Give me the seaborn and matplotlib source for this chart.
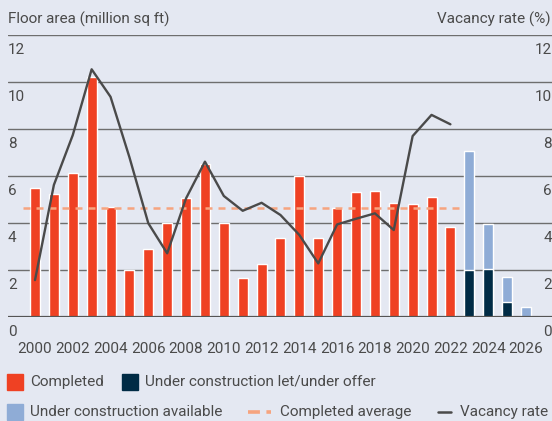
import numpy as np
import pandas as pd
import seaborn as sns
import matplotlib.pyplot as plt
import matplotlib.transforms as mtransforms
from matplotlib.patches import Rectangle
from matplotlib.lines import Line2D

# Data
completed_years = list(range(2000, 2023))
completed = [5.49, 5.23, 6.12, 10.2, 4.68, 2.0, 2.89, 3.99, 5.06, 6.51, 4.0, 1.67,
             2.26, 3.36, 6.01, 3.36, 4.64, 5.32, 5.36, 4.85, 4.81, 5.11, 3.83]
completed_avg = 4.64

uc_years = [2023, 2024, 2025, 2026]
uc_let = [2.0, 2.04, 0.64, 0.0]
uc_available = [5.06, 1.92, 1.06, 0.43]

vacancy_years = list(range(2000, 2023))
vacancy = [1.57, 5.62, 7.74, 10.54, 9.37, 6.8, 3.99, 2.71, 5.05, 6.61, 5.15, 4.52,
           4.86, 4.34, 3.49, 2.28, 3.94, 4.18, 4.41, 3.70, 7.70, 8.6, 8.2]

y_ticks = [0, 2, 4, 6, 8, 10, 12]
x_ticks = list(range(2000, 2027, 2))

# colours
BG = '#E4E8F2'
RED = '#EF4123'
NAVY = '#002B45'
LIGHTBLUE = '#8FACD6'
SALMON = '#F6A47F'
LINE = '#4A4A4A'
GRID = '#6E6E6E'
TXT = '#4A4A4A'
FS = 11.0

sns.set_theme(style='white')
plt.rcParams['font.family'] = ['Roboto', 'DejaVu Sans']

W, H = 552, 421
fig = plt.figure(figsize=(W / 100, H / 100), dpi=100, facecolor=BG)
ax = fig.add_axes([8 / W, 1 - 317 / H, 544 / W, 282 / H], facecolor=BG)

uc_total = [a + b for a, b in zip(uc_let, uc_available)]
df_done = pd.DataFrame({'year': completed_years, 'value': completed})
df_uc = pd.DataFrame({'year': uc_years, 'let': uc_let, 'total': uc_total})

sns.barplot(data=df_done, x='year', y='value', native_scale=True, width=0.53,
            color=RED, saturation=1, errorbar=None, ax=ax, zorder=3)
sns.barplot(data=df_uc, x='year', y='total', native_scale=True, width=0.53,
            color=LIGHTBLUE, saturation=1, errorbar=None, ax=ax, zorder=3)
sns.barplot(data=df_uc, x='year', y='let', native_scale=True, width=0.53,
            color=NAVY, saturation=1, errorbar=None, ax=ax, zorder=3)

# completed average
ax.hlines(completed_avg, completed_years[0] - 0.62, completed_years[-1] + 0.62,
          color=SALMON, lw=1.8, linestyles=(0, (2.8, 2.4)), zorder=4)

sns.lineplot(x=vacancy_years, y=vacancy, color=LINE, lw=1.7, ax=ax, zorder=5,
             legend=False)

ax.set_xlim(1998.57, 2027.38)
ax.set_ylim(0, 12)
ax.set_yticks(y_ticks)
ax.set_yticklabels([])
ax.grid(axis='y', color=GRID, lw=1.0, zorder=1)
ax.grid(axis='x', visible=False)
ax.axhline(0, color='#555555', lw=1.6, zorder=6)
for s in ax.spines.values():
    s.set_visible(False)
ax.tick_params(axis='y', length=0)
ax.set_xticks(x_ticks)
ax.set_xticklabels([str(x) for x in x_ticks])
ax.tick_params(axis='x', length=0, pad=18, labelsize=FS, labelcolor=TXT)
ax.set_xlabel('')
ax.set_ylabel('')

# y labels sit below their gridlines, on both sides inside the plot
off = mtransforms.offset_copy(ax.get_yaxis_transform(), fig, y=-15, units='dots')
for t in y_ticks:
    ax.text(0.0, t, str(t), transform=off, ha='left', va='center',
            fontsize=FS, color=TXT)
    ax.text(1.0, t, str(t), transform=off, ha='right', va='center',
            fontsize=FS, color=TXT)

fig.text(8 / W, 1 - 19 / H, 'Floor area (million sq ft)', ha='left', va='center',
         fontsize=FS, color=TXT)
fig.text(551 / W, 1 - 19 / H, 'Vacancy rate (%)', ha='right', va='center',
         fontsize=FS, color=TXT)


# legend drawn by hand
def square(x, yc, color, label):
    fig.add_artist(Rectangle((x / W, 1 - (yc + 8) / H), 16 / W, 16 / H,
                             transform=fig.transFigure, color=color))
    fig.text((x + 23) / W, 1 - yc / H, label, ha='left', va='center',
             fontsize=FS, color=TXT)


def line(x0, x1, yc, label, **kw):
    fig.add_artist(Line2D([x0 / W, x1 / W], [1 - yc / H, 1 - yc / H],
                          transform=fig.transFigure, **kw))
    fig.text((x1 + 9) / W, 1 - yc / H, label, ha='left', va='center',
             fontsize=FS, color=TXT)


square(7, 382, RED, 'Completed')
square(122, 382, NAVY, 'Under construction let/under offer')
square(7, 412, LIGHTBLUE, 'Under construction available')
line(248, 271, 412, 'Completed average', color=SALMON, lw=2.6,
     linestyle=(0, (3.3, 1.8)))
line(438, 451, 412, 'Vacancy rate', color=LINE, lw=1.8)

fig.savefig('out.png', dpi=100, facecolor=BG)
